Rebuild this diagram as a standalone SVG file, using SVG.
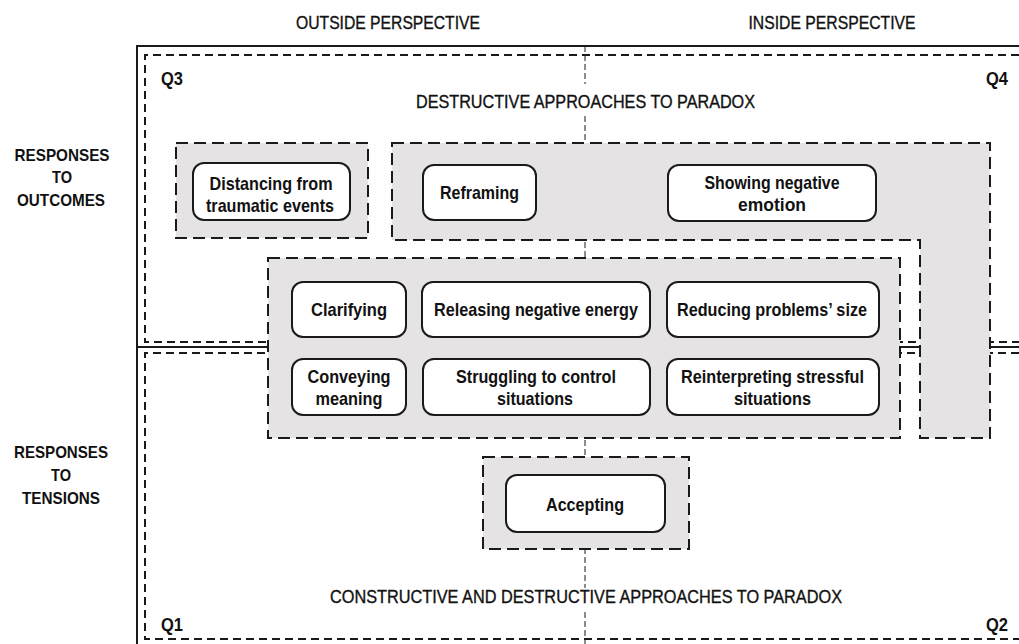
<svg xmlns="http://www.w3.org/2000/svg" width="1019" height="644" viewBox="0 0 1019 644">
<style>
.frame{fill:none;stroke:#1a1a1a;stroke-width:2}
.qdash{fill:none;stroke:#1a1a1a;stroke-width:2;stroke-dasharray:8 5}
.center{fill:none;stroke:#1a1a1a;stroke-width:1;stroke-dasharray:6 3}
.group{fill:#e6e3e4;stroke:#1a1a1a;stroke-width:2;stroke-dasharray:12 6}
.node rect{fill:#ffffff;stroke:#1a1a1a;stroke-width:2}
text{font-family:"Liberation Sans",Arial,sans-serif;fill:#111;text-anchor:middle}
.n{font-size:19px;font-weight:bold}
.h{font-size:18px;font-weight:normal;stroke:#111;stroke-width:0.35}
.l{font-size:17px;font-weight:bold}
.q{font-size:18px;font-weight:bold}
</style>
<rect x="0" y="0" width="1019" height="644" fill="#ffffff"/>

<g id="frame">
  <path class="frame" d="M137,644 V46 H1019"/>
  <line class="frame" x1="137" y1="347" x2="1019" y2="347" stroke-width="1.5"/>
  <path class="qdash" d="M1019,55 H145 V342 H1019"/>
  <path class="qdash" d="M1019,353 H145 V639 H1019"/>
</g>

<g id="connectors">
  <line class="center" x1="585" y1="46" x2="585" y2="84"/>
  <line class="center" x1="585" y1="116" x2="585" y2="588"/>
  <line class="center" x1="585" y1="612" x2="585" y2="644"/>
</g>

<g id="headers">
  <text class="h" x="388" y="29" textLength="184" lengthAdjust="spacingAndGlyphs">OUTSIDE PERSPECTIVE</text>
  <text class="h" x="832" y="29" textLength="167" lengthAdjust="spacingAndGlyphs">INSIDE PERSPECTIVE</text>
  <text class="h" x="585.5" y="108" textLength="339" lengthAdjust="spacingAndGlyphs">DESTRUCTIVE  APPROACHES  TO PARADOX</text>
  <text class="h" x="586" y="603" textLength="512" lengthAdjust="spacingAndGlyphs">CONSTRUCTIVE  AND  DESTRUCTIVE  APPROACHES  TO PARADOX</text>
  <text class="q" x="172" y="85" textLength="22" lengthAdjust="spacingAndGlyphs">Q3</text>
  <text class="q" x="997" y="85" textLength="22" lengthAdjust="spacingAndGlyphs">Q4</text>
  <text class="q" x="172" y="631" textLength="22" lengthAdjust="spacingAndGlyphs">Q1</text>
  <text class="q" x="997" y="631" textLength="22" lengthAdjust="spacingAndGlyphs">Q2</text>
</g>

<g id="label-outcomes">
  <text class="l" x="62" y="161" textLength="95" lengthAdjust="spacingAndGlyphs">RESPONSES</text>
  <text class="l" x="62" y="183" textLength="20" lengthAdjust="spacingAndGlyphs">TO</text>
  <text class="l" x="61" y="206" textLength="88" lengthAdjust="spacingAndGlyphs">OUTCOMES</text>
</g>
<g id="label-tensions">
  <text class="l" x="61" y="458" textLength="94" lengthAdjust="spacingAndGlyphs">RESPONSES</text>
  <text class="l" x="61" y="481" textLength="20" lengthAdjust="spacingAndGlyphs">TO</text>
  <text class="l" x="61" y="504" textLength="78" lengthAdjust="spacingAndGlyphs">TENSIONS</text>
</g>

<g id="group-distancing"><rect class="group" x="176" y="143" width="192" height="95"/></g>
<g id="group-L"><path class="group" d="M392,143 H990 V438 H920 V240 H392 Z"/></g>
<g id="group-middle"><rect class="group" x="268" y="258" width="632" height="180"/></g>
<g id="group-accepting"><rect class="group" x="483" y="457" width="206" height="92"/></g>

<g id="node-distancing" class="node">
  <rect x="193" y="163" width="157" height="57" rx="11"/>
  <text class="n" x="271" y="190" textLength="123" lengthAdjust="spacingAndGlyphs">Distancing from</text>
  <text class="n" x="270" y="212" textLength="128" lengthAdjust="spacingAndGlyphs">traumatic events</text>
</g>
<g id="node-reframing" class="node">
  <rect x="423" y="165" width="113" height="55" rx="11"/>
  <text class="n" x="479.5" y="199" textLength="79" lengthAdjust="spacingAndGlyphs">Reframing</text>
</g>
<g id="node-showing" class="node">
  <rect x="668" y="165" width="208" height="56" rx="11"/>
  <text class="n" x="772" y="189" textLength="135" lengthAdjust="spacingAndGlyphs">Showing negative</text>
  <text class="n" x="772" y="211" textLength="68" lengthAdjust="spacingAndGlyphs">emotion</text>
</g>
<g id="node-clarifying" class="node">
  <rect x="292" y="282" width="114" height="55" rx="11"/>
  <text class="n" x="349" y="316" textLength="76" lengthAdjust="spacingAndGlyphs">Clarifying</text>
</g>
<g id="node-releasing" class="node">
  <rect x="422" y="282" width="228" height="55" rx="11"/>
  <text class="n" x="536" y="316" textLength="204" lengthAdjust="spacingAndGlyphs">Releasing negative energy</text>
</g>
<g id="node-reducing" class="node">
  <rect x="667" y="282" width="212" height="55" rx="11"/>
  <text class="n" x="772" y="316" textLength="190" lengthAdjust="spacingAndGlyphs">Reducing problems’ size</text>
</g>
<g id="node-conveying" class="node">
  <rect x="292" y="359" width="114" height="56" rx="11"/>
  <text class="n" x="349" y="383" textLength="83" lengthAdjust="spacingAndGlyphs">Conveying</text>
  <text class="n" x="349" y="405" textLength="67" lengthAdjust="spacingAndGlyphs">meaning</text>
</g>
<g id="node-struggling" class="node">
  <rect x="423" y="359" width="227" height="56" rx="11"/>
  <text class="n" x="536" y="383" textLength="160" lengthAdjust="spacingAndGlyphs">Struggling to control</text>
  <text class="n" x="535" y="405" textLength="76" lengthAdjust="spacingAndGlyphs">situations</text>
</g>
<g id="node-reinterpreting" class="node">
  <rect x="667" y="359" width="212" height="56" rx="11"/>
  <text class="n" x="772.5" y="383" textLength="183" lengthAdjust="spacingAndGlyphs">Reinterpreting stressful</text>
  <text class="n" x="772.5" y="405" textLength="77" lengthAdjust="spacingAndGlyphs">situations</text>
</g>
<g id="node-accepting" class="node">
  <rect x="506" y="475" width="159" height="57" rx="11"/>
  <text class="n" x="585" y="511" textLength="78" lengthAdjust="spacingAndGlyphs">Accepting</text>
</g>
</svg>
